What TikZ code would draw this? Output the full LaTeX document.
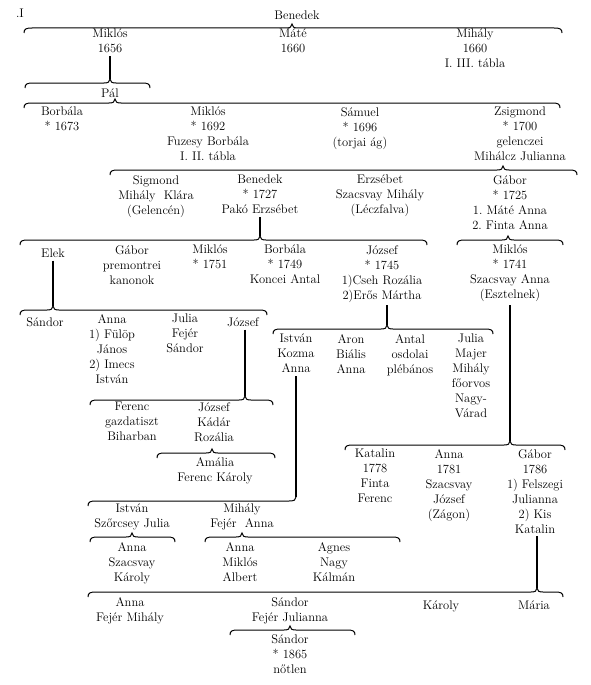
\documentclass[tikz,border=0pt]{standalone}
\usepackage{fontspec}
\usepackage{tikz}
\usetikzlibrary{calc}

% brace of a family: left end, right end, tip, height, name of the tip
\newcommand{\agak}[5]{%
  \draw[kapocs] (#1,#4+5) .. controls (#1,#4+1) and (#1+2,#4) .. (#1+8,#4) -- (#3-6,#4)
    .. controls (#3-2,#4) and (#3,#4-1) .. (#3,#4-4)
    .. controls (#3,#4-1) and (#3+2,#4) .. (#3+6,#4) -- (#2-8,#4)
    .. controls (#2-2,#4) and (#2,#4+1) .. (#2,#4+5);
  \coordinate (#5) at (#3,#4-4);}

\begin{document}
\begin{tikzpicture}[x=1pt, y=-1pt, font=\fontsize{12.5}{15}\selectfont\addfontfeatures{LetterSpace=6,FakeBold=0.3}]
		\tikzset{nev/.style={align=center, inner sep=0pt, anchor=north, yshift=12pt, execute at begin node={\rule{0pt}{12pt}}}}
		\tikzset{kapocs/.style={line width=1pt}}
		\tikzset{szar/.style={line width=1.4pt, shorten <=3pt}}
		\useasboundingbox[fill=white] (0,0) rectangle (590,685);
		\node[nev] (tabla) at (20,17) {.I};
		% first generations
		\node[nev] (benedek) at (297,19) {Benedek};
		\agak{24}{562}{292}{28}{t1}
		\node[nev] (miklos1656) at (110,41) {Miklós\\1656};
		\node[nev] (mate) at (293,41) {Máté\\1660};
		\node[nev] (mihaly) at (475,41) {Mihály\\1660\\I. III. tábla};
		\agak{25}{150}{110}{83}{tpal}
		\draw[szar] (tpal |- miklos1656.south) -- (tpal);
		\node[nev] (pal) at (110,97) {Pál};
		\agak{24}{560}{115}{103}{t2}
		\node[nev] (borbala1673) at (62,119) {Borbála\\* 1673};
		\node[nev] (miklos1692) at (208,119) {Miklós\\* 1692\\Fuzesy Borbála\\I. II. tábla};
		\node[nev] (samuel) at (360,119) {Sámuel\\* 1696\\(torjai ág)};
		\node[nev] (zsigmond) at (520,119) {Zsigmond\\* 1700\\gelenczei\\Mihálcz Julianna};
		\agak{110}{577}{503}{170}{t3}
		\node[nev] (sigmond) at (156,187) {Sigmond\\Mihály\ \ Klára\\(Gelencén)};
		\node[nev] (benedek1727) at (260,187) {Benedek\\* 1727\\Pakó Erzsébet};
		\node[nev] (erzsebet) at (380,187) {Erzsébet\\Szacsvay Mihály\\(Léczfalva)};
		\node[nev] (gabor1725) at (510,187) {Gábor\\* 1725\\1.\ Máté Anna\\2.\ Finta Anna};
		% children of Benedek and Gábor
		\agak{20}{427}{260}{240}{t4}
		\draw[szar] (t4 |- benedek1727.south) -- (t4);
		\agak{457}{563}{508}{240}{t5}
		\node[nev] (elek) at (53,257) {Elek};
		\node[nev] (gaborpr) at (132,257) {Gábor\\premontrei\\kanonok};
		\node[nev] (miklos1751) at (210,257) {Miklós\\* 1751};
		\node[nev] (borbala1749) at (285,257) {Borbála\\* 1749\\Koncei Antal};
		\node[nev] (jozsef1745) at (382,257) {József\\* 1745\\1)Cseh Rozália\\2)Erős Mártha};
		\node[nev] (miklos1741) at (510,257) {Miklós\\* 1741\\Szacsvay Anna\\(Esztelnek)};
		% Elek
		\agak{20}{267}{53}{310}{t6}
		\draw[szar] (t6 |- elek.south) -- (t6);
		\node[nev] (sandor1) at (45,326) {Sándor};
		\node[nev] (anna1) at (112,326) {Anna\\1) Fülöp\\János\\2) Imecs\\István};
		\node[nev] (julia1) at (185,326) {Julia\\Fejér\\Sándor};
		\node[nev] (jozsef2) at (243,326) {József};
		\agak{90}{273}{245}{400}{t9}
		\draw[szar] (t9 |- jozsef2.south) -- (t9);
		\node[nev] (ferenc) at (132,414) {Ferenc\\gazdatiszt\\Biharban};
		\node[nev] (jozsef3) at (214,414) {József\\Kádár\\Rozália};
		\agak{157}{275}{212}{453}{t10}
		\node[nev] (amalia) at (215,469) {Amália\\Ferenc Károly};
		% József 1745
		\agak{273}{493}{387}{329}{t7}
		\draw[szar] (t7 |- jozsef1745.south) -- (t7);
		\node[nev] (istvan1) at (296,346) {István\\Kozma\\Anna};
		\node[nev] (aron) at (351,346) {Aron\\Biális\\Anna};
		\node[nev] (antal) at (410,346) {Antal\\osdolai\\plébános};
		\node[nev] (julia2) at (471,346) {Julia\\Majer\\Mihály\\főorvos\\Nagy-\\Várad};
		% István
		\coordinate (t11) at (296,497);
		\draw[kapocs] (88,506) .. controls (88,502) and (90,501) .. (96,501) -- (289,501)
			.. controls (294,501) and (296,500) .. (t11);
		\draw[szar] (t11 |- istvan1.south) -- (t11);
		\node[nev] (istvan2) at (132,516) {István\\Szőrcsey Julia};
		\node[nev] (mihaly2) at (242,516) {Mihály\\Fejér\ \ Anna};
		\agak{90}{175}{132}{537}{t12}
		\agak{205}{400}{242}{537}{t13}
		\node[nev] (anna3) at (132,554) {Anna\\Szacsvay\\Károly};
		\node[nev] (anna4) at (240,554) {Anna\\Miklós\\Albert};
		\node[nev] (agnes) at (334,554) {Agnes\\Nagy\\Kálmán};
		% Miklós 1741
		\agak{345}{565}{510}{445}{t8}
		\draw[szar] (t8 |- miklos1741.south) -- (t8);
		\node[nev] (katalin) at (375,461) {Katalin\\1778\\Finta\\Ferenc};
		\node[nev] (anna1781) at (449,461) {Anna\\1781\\Szacsvay\\József\\(Zágon)};
		\node[nev] (gabor1786) at (535,461) {Gábor\\1786\\1) Felszegi\\Julianna\\2)\ Kis\\Katalin};
		% Gábor 1786
		\agak{88}{563}{537}{592}{t14}
		\draw[szar] (t14 |- gabor1786.south) -- (t14);
		\node[nev] (anna5) at (130,609) {Anna\\Fejér Mihály};
		\node[nev] (sandor2) at (290,609) {Sándor\\Fejér Julianna};
		\node[nev] (karoly) at (441,609) {Károly};
		\node[nev] (maria) at (534,609) {Mária};
		\agak{230}{355}{290}{630}{t15}
		\node[nev] (sandor1865) at (290,646) {Sándor\\* 1865\\nőtlen};
	\end{tikzpicture}
\end{document}
